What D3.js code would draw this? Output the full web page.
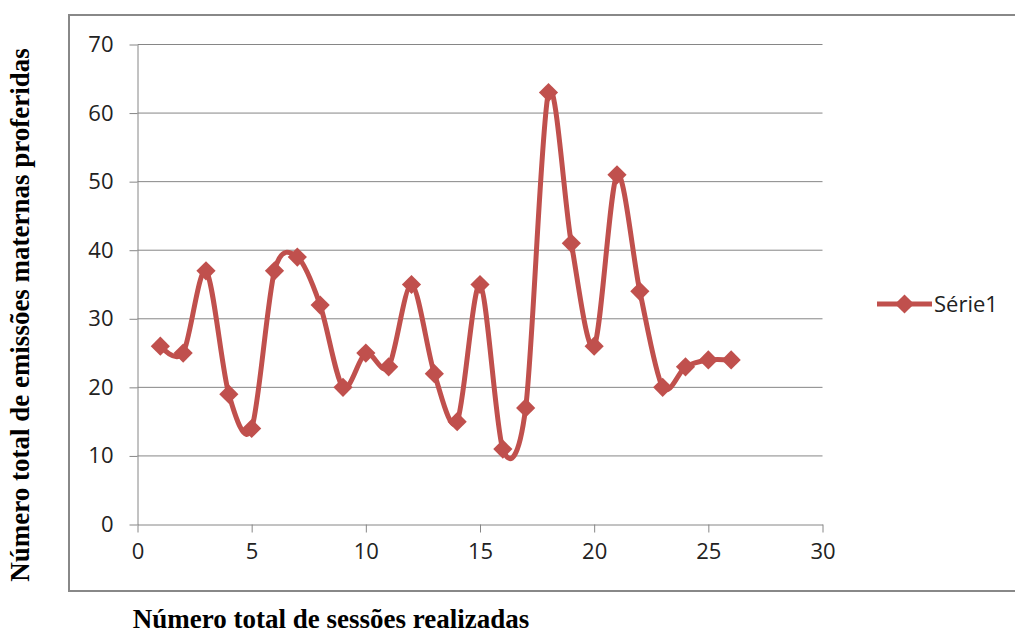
<!DOCTYPE html>
<html>
<head>
<meta charset="utf-8">
<script src="https://cdn.jsdelivr.net/npm/d3@7"></script>
<style>
  body { margin: 0; background: #fff; }
</style>
</head>
<body>
<div id="chart"></div>
<script>
const sessions = [1,2,3,4,5,6,7,8,9,10,11,12,13,14,15,16,17,18,19,20,21,22,23,24,25,26];
const emissions = [26,25,37,19,14,37,39,32,20,25,23,35,22,15,35,11,17,63,41,26,51,34,20,23,24,24];
const xTicks = [0,5,10,15,20,25,30];
const yTicks = [0,10,20,30,40,50,60,70];
const seriesName = "Série1";
const xTitle = "Número total de sessões realizadas";
const yTitle = "Número total de emissões maternas proferidas";

const width = 1015, height = 635;
const color = "#C0504D";
const gridColor = "#868686";

const svg = d3.select("#chart").append("svg")
  .attr("width", width).attr("height", height);

// chart border box
svg.append("path")
  .attr("d", "M1016,15 H69 V591 H1016")
  .attr("fill", "none")
  .attr("stroke", "#888")
  .attr("stroke-width", 2);

const x = d3.scaleLinear().domain([0, 30]).range([137.5, 822.5]);
const y = d3.scaleLinear().domain([0, 70]).range([524.5, 44.5]);

// gridlines
svg.append("g").selectAll("line").data(yTicks.filter(d => d > 0)).enter()
  .append("line")
  .attr("x1", x(0)).attr("x2", x(30))
  .attr("y1", d => y(d)).attr("y2", d => y(d))
  .attr("stroke", gridColor).attr("stroke-width", 1);

const font = "'Open Sans', 'DejaVu Sans', sans-serif";

const yAxis = svg.append("g")
  .attr("transform", `translate(${x(0)},0)`)
  .call(d3.axisLeft(y).tickValues(yTicks).tickSize(8).tickPadding(16).tickSizeOuter(0));
const xAxis = svg.append("g")
  .attr("transform", `translate(0,${y(0)})`)
  .call(d3.axisBottom(x).tickValues(xTicks).tickSize(8).tickPadding(11).tickSizeOuter(0));

[yAxis, xAxis].forEach(g => {
  g.select(".domain").attr("stroke", gridColor);
  g.selectAll(".tick line").attr("stroke", gridColor);
  g.selectAll("text")
    .attr("fill", "#222")
    .style("font-family", font)
    .style("font-size", "22px");
});

// line
const line = d3.line()
  .x((d, i) => x(sessions[i]))
  .y(d => y(d))
  .curve(d3.curveCardinal.tension(0.1));

svg.append("path")
  .datum(emissions)
  .attr("d", line)
  .attr("fill", "none")
  .attr("stroke", color)
  .attr("stroke-width", 5);

const diamond = d3.symbol().type(d3.symbolDiamond2).size(235);

svg.append("g").selectAll("path").data(emissions).enter()
  .append("path")
  .attr("d", diamond)
  .attr("transform", (d, i) => `translate(${x(sessions[i])},${y(d)})`)
  .attr("fill", color);

// legend
const lg = svg.append("g").attr("transform", "translate(877,304)");
lg.append("line").attr("x1", 0).attr("x2", 55).attr("y1", 0).attr("y2", 0)
  .attr("stroke", color).attr("stroke-width", 5);
lg.append("path").attr("d", diamond).attr("transform", "translate(27.5,0)").attr("fill", color);
lg.append("text").attr("x", 57).attr("y", 0).attr("dy", "0.36em")
  .attr("fill", "#222")
  .style("font-family", font).style("font-size", "22px")
  .text(seriesName);

// axis titles
svg.append("text")
  .attr("x", 331).attr("y", 628)
  .attr("text-anchor", "middle")
  .style("font-family", "'Liberation Serif', 'Times New Roman', serif")
  .style("font-weight", "bold").style("font-size", "27px")
  .text(xTitle);

svg.append("text")
  .attr("transform", "translate(29,315) rotate(-90)")
  .attr("text-anchor", "middle")
  .style("font-family", "'Liberation Serif', 'Times New Roman', serif")
  .style("font-weight", "bold").style("font-size", "27px")
  .text(yTitle);
</script>
</body>
</html>
